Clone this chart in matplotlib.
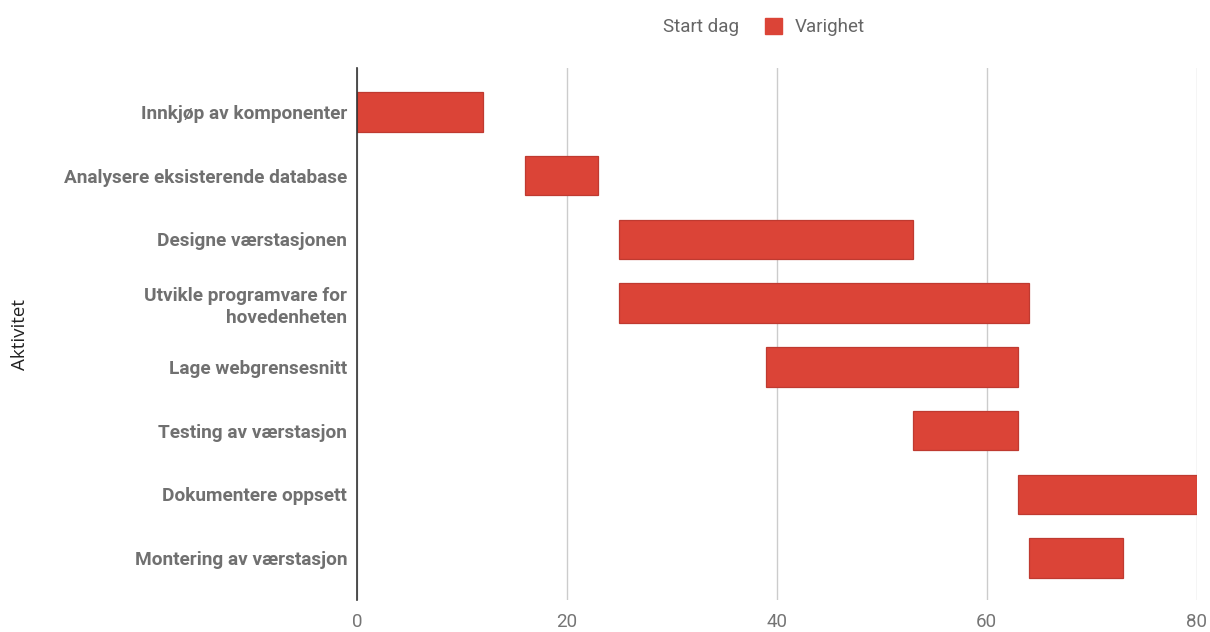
import matplotlib
matplotlib.use("Agg")
import matplotlib.pyplot as plt
from matplotlib.patches import Patch

activities = [
    "Innkjøp av komponenter",
    "Analysere eksisterende database",
    "Designe værstasjonen",
    "Utvikle programvare for\nhovedenheten",
    "Lage webgrensesnitt",
    "Testing av værstasjon",
    "Dokumentere oppsett",
    "Montering av værstasjon",
]
start_day = [0, 16, 25, 25, 39, 53, 63, 64]
duration = [12, 7, 28, 39, 24, 10, 17, 9]
x_ticks = [0, 20, 40, 60, 80]

fig = plt.figure(figsize=(12.1, 6.32), dpi=100)
ax = fig.add_axes([0.295, 0.0506, 0.694, 0.8418])

y = list(range(len(activities)))
ax.barh(y, start_day, height=0.62, color="none", edgecolor="none", label="Start dag")
ax.barh(y, duration, left=start_day, height=0.62, color="#db4437",
        edgecolor="#bf3a30", linewidth=0.9, label="Varighet", zorder=3)

ax.set_xlim(0, 80)
ax.set_ylim(7.66, -0.69)
ax.set_xticks(x_ticks)
ax.set_xticklabels([str(t) for t in x_ticks], fontfamily="Roboto", fontsize=13.5, color="#757575")
ax.set_yticks(y)
ax.set_yticklabels(activities, fontfamily="Roboto", fontweight="bold", fontsize=13.7,
                   color="#707070", linespacing=1.25)
ax.tick_params(axis="both", length=0)
ax.tick_params(axis="x", pad=9)
ax.tick_params(axis="y", pad=7)

ax.grid(axis="x", color="#cccccc", linewidth=1, zorder=0)
ax.set_axisbelow(True)
for s in ["top", "right", "bottom"]:
    ax.spines[s].set_visible(False)
ax.spines["left"].set_color("#333333")
ax.spines["left"].set_linewidth(1.2)
ax.spines["left"].set_zorder(5)

ax.set_ylabel("Aktivitet", fontfamily="Open Sans", fontsize=13.5, color="#222222", labelpad=0)
ax.yaxis.set_label_coords(-0.39, 0.5)

handles = [Patch(facecolor="none", edgecolor="none"),
           Patch(facecolor="#db4437", edgecolor="#db4437")]
leg = fig.legend(handles, ["Start dag", "Varighet"], loc="center", bbox_to_anchor=(0.619, 0.957),
                 ncol=2, frameon=False, handlelength=0.9, handleheight=0.9,
                 columnspacing=1.4, handletextpad=0.7,
                 prop={"family": "Roboto", "size": 13.5})
for t in leg.get_texts():
    t.set_color("#666666")

fig.savefig("out.png", dpi=100)
